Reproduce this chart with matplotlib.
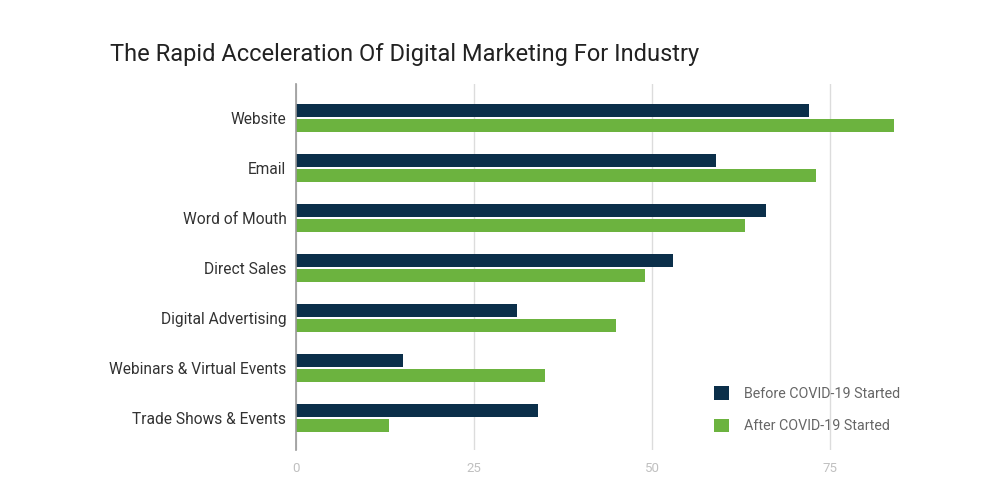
import numpy as np
import matplotlib
matplotlib.use("Agg")
import matplotlib.pyplot as plt

matplotlib.rcParams["font.family"] = ["Roboto", "DejaVu Sans"]

categories = ["Website", "Email", "Word of Mouth", "Direct Sales",
              "Digital Advertising", "Webinars & Virtual Events", "Trade Shows & Events"]
before = [72, 59, 66, 53, 31, 15, 34]
after = [84, 73, 63, 49, 45, 35, 13]
xticks = [0, 25, 50, 75]

navy = "#0b2f4a"
green = "#6cb33f"

fig = plt.figure(figsize=(10, 4.99), dpi=100)
ax = fig.add_axes([0.296, 1 - 450 / 499, 0.623, 366 / 499])

y = np.arange(len(categories))
h = 0.26
ax.barh(y - 0.15, before, height=h, color=navy, label="Before COVID-19 Started", zorder=3)
ax.barh(y + 0.15, after, height=h, color=green, label="After COVID-19 Started", zorder=3)

ax.set_xlim(0, 87.5)
ax.set_ylim(6.64, -0.68)
ax.set_yticks(y)
ax.set_yticklabels(categories, fontsize=11.2, color="#333333")
ax.set_xticks(xticks)
ax.set_xticklabels([str(t) for t in xticks], fontsize=9.5, color="#c0c0c0")
ax.tick_params(axis="both", length=0)
ax.tick_params(axis="x", pad=9)
ax.tick_params(axis="y", pad=7)

ax.grid(axis="x", color="#dcdcdc", linewidth=1, zorder=0)
for s in ["top", "right", "bottom"]:
    ax.spines[s].set_visible(False)
ax.spines["left"].set_color("#999999")
ax.spines["left"].set_linewidth(1.2)
ax.spines["left"].set_zorder(4)

fig.text(0.11, 0.891, "The Rapid Acceleration Of Digital Marketing For Industry",
         fontsize=17, color="#222222", va="center", ha="left")

legend = ax.legend(loc="lower right", bbox_to_anchor=(0.99, 0.01), frameon=False,
                   fontsize=10.3, labelcolor="#666666", handlelength=1.1, handleheight=1.1,
                   labelspacing=1.25, handletextpad=1.0)

fig.savefig("out.png", dpi=100, facecolor="white")
